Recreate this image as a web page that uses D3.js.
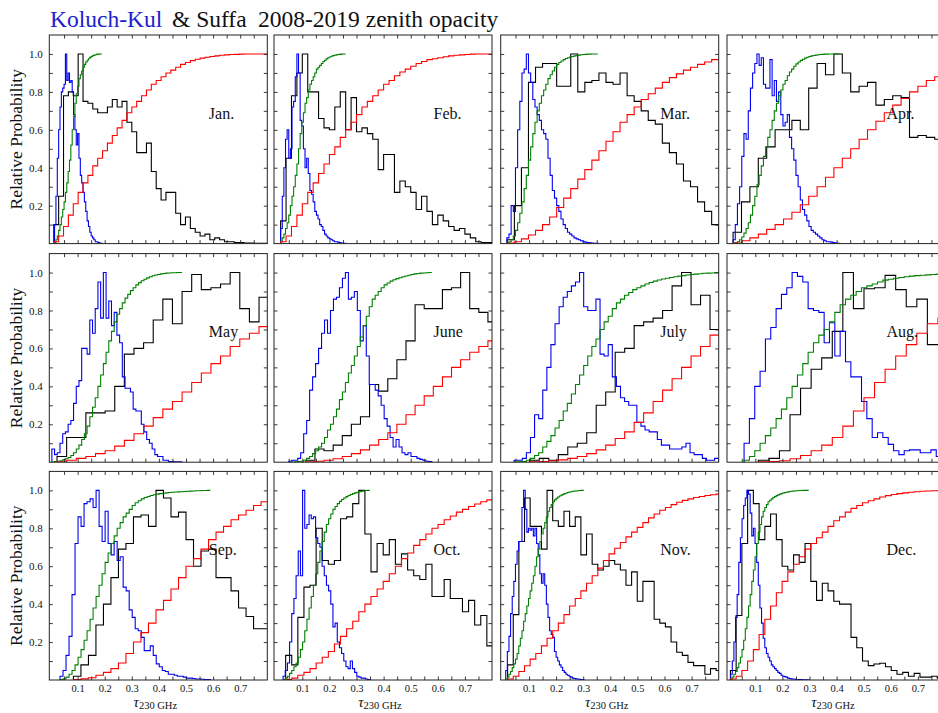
<!DOCTYPE html>
<html><head><meta charset="utf-8">
<script src="https://cdn.jsdelivr.net/npm/d3@7"></script>
<style>html,body{margin:0;padding:0;background:#fff;overflow:hidden}</style>
</head><body><svg id="chart" width="938" height="713"></svg>
<script>
// ---------------- DATA ----------------
const months = ["Jan.","Feb.","Mar.","Apr.","May","June","July","Aug.","Sep.","Oct.","Nov.","Dec."];

// Koluch-Kul (blue histogram, green cumulative): bin start and width per month
const kkStart = [0.015,0.02,0.018,0.018,0.005,0.05,0.045,0.0585,0.035,0.029,0.014,0.009];
const kkWidth = [0.005,0.006,0.008,0.008,0.01,0.011,0.0151,0.0197,0.0111,0.008,0.006,0.006];
const kkHist = [
 [0.1,0.25,0.45,0.6,0.72,0.8,0.82,0.84,1.0,0.86,0.9,0.85,0.86,0.8,0.68,0.6,0.52,0.58,0.45,0.36,0.32,0.27,0.22,0.17,0.12,0.09,0.06,0.04,0.03,0.02,0.01,0.01,0.005,0.003,0.002],
 [0.08,0.25,0.4,0.55,0.6,0.45,0.5,0.72,0.75,0.88,1.0,0.9,0.65,0.62,0.5,0.4,0.45,0.37,0.28,0.26,0.22,0.17,0.15,0.13,0.1,0.09,0.07,0.05,0.04,0.03,0.025,0.02,0.015,0.01,0.01,0.008,0.005,0.003,0.002,0.001],
 [0.03,0.05,0.2,0.17,0.4,0.6,0.75,0.9,0.92,1.0,0.9,0.85,0.76,0.72,0.68,0.65,0.6,0.58,0.55,0.45,0.36,0.28,0.24,0.2,0.17,0.13,0.1,0.08,0.06,0.05,0.04,0.03,0.025,0.02,0.015,0.01,0.008,0.005,0.004,0.003,0.002,0.001],
 [0.02,0.1,0.21,0.3,0.46,0.58,0.55,0.7,0.82,0.9,0.95,1.0,0.94,0.98,0.84,0.82,0.82,0.97,0.78,0.86,0.75,0.8,0.68,0.62,0.64,0.68,0.56,0.5,0.44,0.36,0.3,0.23,0.18,0.15,0.12,0.09,0.07,0.06,0.05,0.04,0.03,0.02,0.015,0.01,0.01,0.008,0.005,0.003,0.002],
 [0.07,0.04,0.05,0.1,0.15,0.16,0.2,0.22,0.31,0.4,0.43,0.6,0.6,0.57,0.75,0.68,0.81,0.95,0.76,1.0,0.76,0.85,0.72,0.79,0.67,0.63,0.45,0.39,0.39,0.37,0.28,0.27,0.27,0.2,0.16,0.12,0.1,0.07,0.04,0.03,0.03,0.01,0.01,0.003,0.003,0.002,0.002,0.002],
 [0.005,0.01,0.01,0.02,0.05,0.15,0.22,0.38,0.45,0.52,0.6,0.68,0.75,0.68,0.8,0.86,0.87,0.92,0.97,1.0,0.86,0.87,0.9,0.8,0.64,0.72,0.56,0.41,0.41,0.38,0.35,0.3,0.23,0.19,0.13,0.08,0.12,0.08,0.05,0.04,0.05,0.03,0.03,0.02,0.015,0.01,0.005,0.003],
 [0.01,0.01,0.02,0.05,0.13,0.25,0.23,0.38,0.5,0.62,0.73,0.82,0.87,0.9,0.93,0.95,1.0,0.82,0.8,0.8,0.86,0.57,0.56,0.62,0.45,0.4,0.34,0.32,0.3,0.3,0.21,0.19,0.17,0.16,0.16,0.12,0.09,0.09,0.07,0.07,0.07,0.08,0.1,0.05,0.04,0.04,0.02,0.01,0.01,0.02],
 [0.1,0.23,0.4,0.48,0.65,0.71,0.81,0.885,0.92,1.0,0.98,0.95,0.81,0.8,0.79,0.63,0.735,0.56,0.69,0.53,0.45,0.45,0.32,0.23,0.13,0.155,0.13,0.094,0.06,0.04,0.06,0.065,0.065,0.05,0.05,0.065,0.03,0.03],
 [0.02,0.05,0.13,0.23,0.45,0.72,0.86,0.81,0.93,0.94,0.955,0.91,1.0,0.81,0.73,0.89,0.72,0.66,0.73,0.63,0.65,0.49,0.47,0.37,0.33,0.27,0.26,0.225,0.155,0.155,0.18,0.13,0.085,0.07,0.05,0.045,0.03,0.03,0.025,0.02,0.02,0.015,0.01,0.01,0.008,0.005,0.005,0.004,0.003,0.002],
 [0.02,0.05,0.09,0.2,0.35,0.43,0.55,0.68,0.55,1.0,0.8,0.82,0.87,0.85,0.86,0.75,0.72,0.7,0.6,0.55,0.5,0.47,0.4,0.28,0.3,0.2,0.17,0.14,0.1,0.07,0.06,0.1,0.06,0.04,0.02,0.015,0.01,0.01,0.005,0.003],
 [0.05,0.15,0.23,0.35,0.44,0.52,0.61,0.68,0.73,0.73,0.91,1.0,0.9,0.78,0.8,0.79,0.8,0.76,0.8,0.72,0.66,0.56,0.51,0.56,0.5,0.4,0.33,0.26,0.24,0.225,0.15,0.12,0.1,0.08,0.067,0.05,0.04,0.03,0.025,0.02,0.015,0.01,0.008,0.006,0.005,0.004,0.003,0.002],
 [0.03,0.1,0.2,0.33,0.45,0.62,0.75,0.85,0.92,0.96,1.0,0.98,0.88,0.76,0.8,0.72,0.62,0.5,0.38,0.3,0.22,0.17,0.14,0.12,0.1,0.08,0.07,0.06,0.05,0.04,0.035,0.025,0.02,0.018,0.015,0.01,0.008,0.006,0.005,0.004,0.003,0.003,0.002,0.002,0.001,0.001,0.001,0.001]
];
const kkCum = [
 [0.005,0.02,0.04,0.07,0.1,0.14,0.18,0.22,0.27,0.32,0.38,0.44,0.52,0.6,0.67,0.74,0.79,0.83,0.87,0.89,0.91,0.93,0.945,0.957,0.967,0.975,0.982,0.987,0.991,0.994,0.996,0.998,0.999,1.0,1.0],
 [0.01,0.03,0.05,0.08,0.11,0.15,0.2,0.25,0.3,0.36,0.42,0.5,0.58,0.64,0.69,0.74,0.77,0.81,0.84,0.86,0.88,0.9,0.92,0.93,0.94,0.95,0.96,0.967,0.974,0.98,0.984,0.988,0.991,0.993,0.995,0.997,0.998,0.999,1,1],
 [0.005,0.01,0.02,0.04,0.07,0.11,0.16,0.22,0.29,0.36,0.44,0.51,0.58,0.64,0.7,0.74,0.78,0.81,0.84,0.87,0.89,0.91,0.93,0.945,0.955,0.963,0.97,0.976,0.98,0.984,0.987,0.99,0.992,0.994,0.996,0.997,0.998,0.999,0.999,1,1,1],
 [0.002,0.005,0.01,0.02,0.035,0.055,0.08,0.11,0.15,0.2,0.25,0.31,0.36,0.41,0.46,0.51,0.56,0.6,0.65,0.7,0.74,0.78,0.81,0.84,0.86,0.885,0.905,0.92,0.935,0.948,0.958,0.966,0.972,0.978,0.983,0.987,0.99,0.992,0.994,0.996,0.997,0.998,0.999,0.999,1,1,1,1,1],
 [0.001,0.003,0.005,0.008,0.012,0.018,0.025,0.035,0.05,0.07,0.09,0.12,0.15,0.19,0.24,0.29,0.34,0.4,0.46,0.52,0.58,0.64,0.69,0.74,0.78,0.81,0.84,0.865,0.885,0.905,0.92,0.935,0.947,0.957,0.965,0.972,0.978,0.983,0.987,0.99,0.993,0.995,0.997,0.998,0.999,0.999,1,1],
 [0,0.001,0.002,0.003,0.005,0.01,0.02,0.03,0.045,0.06,0.08,0.1,0.13,0.17,0.2,0.24,0.28,0.33,0.37,0.42,0.47,0.51,0.56,0.61,0.66,0.72,0.77,0.82,0.86,0.88,0.9,0.92,0.935,0.945,0.955,0.962,0.968,0.973,0.978,0.982,0.986,0.99,0.993,0.995,0.997,0.998,0.999,1],
 [0.001,0.002,0.004,0.01,0.02,0.035,0.05,0.08,0.11,0.14,0.18,0.22,0.27,0.31,0.36,0.41,0.46,0.51,0.56,0.61,0.65,0.7,0.74,0.77,0.81,0.84,0.86,0.88,0.895,0.91,0.92,0.93,0.94,0.948,0.955,0.961,0.966,0.97,0.974,0.978,0.981,0.984,0.987,0.99,0.992,0.994,0.996,0.997,0.998,1.0],
 [0.01,0.03,0.06,0.1,0.14,0.18,0.23,0.28,0.34,0.4,0.46,0.52,0.58,0.63,0.67,0.7,0.74,0.79,0.83,0.86,0.88,0.9,0.92,0.93,0.94,0.95,0.96,0.965,0.97,0.974,0.978,0.981,0.984,0.986,0.988,0.99,0.992,0.994],
 [0.002,0.006,0.015,0.03,0.05,0.08,0.12,0.16,0.21,0.26,0.32,0.38,0.44,0.5,0.56,0.62,0.67,0.72,0.76,0.8,0.83,0.86,0.88,0.9,0.92,0.935,0.945,0.955,0.962,0.968,0.973,0.977,0.98,0.983,0.985,0.987,0.989,0.99,0.991,0.992,0.993,0.994,0.995,0.996,0.997,0.998,0.998,0.999,0.999,1.0],
 [0.003,0.01,0.02,0.035,0.05,0.07,0.09,0.12,0.16,0.2,0.26,0.32,0.38,0.44,0.5,0.56,0.62,0.68,0.73,0.78,0.82,0.85,0.875,0.9,0.915,0.93,0.942,0.952,0.96,0.967,0.973,0.978,0.983,0.987,0.99,0.993,0.996,0.998,0.999,1.0],
 [0.005,0.015,0.03,0.045,0.065,0.085,0.11,0.14,0.18,0.22,0.26,0.31,0.35,0.39,0.43,0.47,0.51,0.55,0.6,0.65,0.69,0.73,0.77,0.8,0.83,0.86,0.89,0.91,0.925,0.94,0.95,0.958,0.965,0.97,0.975,0.979,0.983,0.986,0.989,0.991,0.993,0.995,0.996,0.997,0.998,0.999,1,1],
 [0.005,0.015,0.03,0.045,0.065,0.09,0.12,0.16,0.21,0.27,0.33,0.39,0.45,0.52,0.58,0.65,0.72,0.78,0.82,0.86,0.89,0.91,0.925,0.94,0.948,0.955,0.962,0.967,0.972,0.976,0.98,0.983,0.986,0.988,0.99,0.992,0.994,0.995,0.996,0.997,0.998,0.998,0.999,0.999,1,1,1,1]
];

// Suffa (black histogram, red cumulative): bin start and width per month
const suStart = [0.012,0.02,0.02,0.018,0.024,0.113,0.103,0.111,0.0845,0.0385,0.021,0.008];
const suWidth = [0.018,0.02,0.026,0.031,0.0355,0.0336,0.035,0.039,0.0277,0.0225,0.0208,0.0212];
const suHist = [
 [0.1,0.25,0.78,0.8,0.78,1.0,0.75,0.74,0.71,0.69,0.69,0.72,0.76,0.72,0.75,0.64,0.59,0.48,0.48,0.53,0.38,0.29,0.23,0.27,0.27,0.16,0.1,0.14,0.08,0.06,0.04,0.05,0.02,0.03,0.02,0.01,0.01,0.005,0.005,0.003,0.003,0.002,0.002,0.002],
 [0.12,0.45,0.78,0.9,1.0,0.8,0.8,0.66,0.61,0.6,0.72,0.8,0.6,0.77,0.59,0.61,0.58,0.55,0.39,0.47,0.47,0.27,0.33,0.3,0.27,0.18,0.25,0.17,0.1,0.15,0.12,0.09,0.07,0.08,0.05,0.03,0.01,0.005,0.005],
 [0.02,0.2,0.4,0.85,0.93,0.95,0.95,0.83,0.83,1.0,0.8,0.85,0.86,0.9,0.85,0.84,0.9,0.78,0.75,0.7,0.65,0.63,0.53,0.48,0.42,0.33,0.3,0.22,0.17,0.1],
 [0.06,0.22,0.3,0.45,0.51,0.6,0.6,0.65,0.6,0.82,0.95,0.89,1.0,0.9,0.8,0.83,0.85,0.73,0.76,0.78,0.77,0.56,0.57,0.56,0.55,0.55],
 [0.03,0.13,0.13,0.26,0.26,0.27,0.4,0.57,0.6,0.63,0.75,0.86,0.73,0.9,0.99,0.91,0.92,0.94,1.0,0.81,0.74,0.87],
 [0.01,0.07,0.06,0.09,0.14,0.2,0.24,0.41,0.375,0.44,0.54,0.64,0.83,0.81,0.81,0.91,0.92,1.0,0.81,0.79,0.74],
 [0.01,0.02,0.01,0.04,0.08,0.1,0.155,0.3,0.37,0.58,0.6,0.72,0.74,0.76,0.8,0.93,1.0,0.83,0.88,0.7],
 [0.01,0.02,0.06,0.25,0.39,0.49,0.55,0.69,1.0,0.81,0.915,0.92,0.985,0.91,0.82,0.86,0.62,0.62],
 [0.02,0.08,0.13,0.29,0.4,0.54,0.69,0.72,0.86,0.87,0.81,1.0,0.96,0.86,0.885,0.74,0.6,0.68,0.69,0.54,0.54,0.47,0.38,0.335,0.27,0.27],
 [0.13,0.08,0.33,0.49,0.5,0.8,0.63,0.61,0.63,0.85,0.86,0.93,1.0,0.77,0.57,0.72,0.66,0.74,0.61,0.665,0.58,0.55,0.53,0.61,0.44,0.44,0.53,0.43,0.43,0.36,0.42,0.29,0.34,0.18],
 [0.08,0.345,0.73,0.96,0.81,0.81,0.69,1.0,0.84,0.81,0.89,0.81,0.86,0.66,0.77,0.61,0.58,0.6,0.63,0.61,0.58,0.5,0.57,0.415,0.52,0.52,0.32,0.3,0.28,0.2,0.146,0.13,0.093,0.076,0.076,0.03,0.06,0.05],
 [0.05,0.34,0.72,1.0,0.93,0.74,0.81,0.875,0.74,0.6,0.58,0.66,0.62,0.72,0.52,0.42,0.51,0.47,0.415,0.4,0.4,0.225,0.17,0.1,0.076,0.084,0.088,0.07,0.05,0.03,0.04,0.02,0.035,0.015,0.015,0.02,0.01,0.01]
];
const suCum = [
 [0.01,0.04,0.09,0.15,0.21,0.27,0.32,0.36,0.41,0.45,0.49,0.53,0.57,0.61,0.65,0.69,0.72,0.75,0.78,0.81,0.84,0.86,0.88,0.9,0.915,0.93,0.945,0.955,0.965,0.972,0.978,0.983,0.987,0.99,0.993,0.995,0.997,0.998,0.999,1,1,1,1,1],
 [0.01,0.04,0.09,0.15,0.21,0.27,0.32,0.37,0.42,0.47,0.51,0.56,0.6,0.64,0.68,0.72,0.75,0.78,0.81,0.84,0.86,0.885,0.905,0.92,0.935,0.95,0.96,0.97,0.975,0.98,0.985,0.99,0.993,0.995,0.997,0.999,1,1,1],
 [0.003,0.01,0.025,0.045,0.07,0.1,0.14,0.19,0.24,0.29,0.34,0.39,0.44,0.49,0.54,0.59,0.64,0.68,0.72,0.76,0.79,0.82,0.85,0.875,0.895,0.915,0.93,0.945,0.958,0.97],
 [0.003,0.015,0.03,0.05,0.075,0.1,0.13,0.165,0.205,0.25,0.3,0.35,0.4,0.45,0.5,0.55,0.6,0.645,0.69,0.73,0.765,0.8,0.83,0.86,0.88,0.9],
 [0.002,0.01,0.02,0.03,0.045,0.06,0.085,0.115,0.15,0.19,0.235,0.28,0.32,0.37,0.42,0.47,0.52,0.56,0.61,0.65,0.68,0.715],
 [0.002,0.005,0.01,0.018,0.03,0.045,0.065,0.09,0.12,0.155,0.2,0.25,0.3,0.35,0.4,0.45,0.5,0.54,0.58,0.61,0.64],
 [0.002,0.004,0.007,0.012,0.02,0.03,0.045,0.065,0.09,0.125,0.16,0.21,0.26,0.32,0.38,0.44,0.5,0.56,0.61,0.67],
 [0.002,0.004,0.008,0.018,0.035,0.06,0.09,0.13,0.19,0.27,0.34,0.42,0.49,0.56,0.62,0.68,0.73,0.76],
 [0.002,0.006,0.012,0.025,0.04,0.06,0.09,0.14,0.2,0.25,0.3,0.37,0.42,0.48,0.54,0.6,0.64,0.69,0.74,0.78,0.81,0.845,0.87,0.895,0.92,0.94],
 [0.003,0.01,0.025,0.04,0.06,0.09,0.12,0.15,0.19,0.23,0.27,0.31,0.36,0.4,0.44,0.48,0.52,0.56,0.6,0.64,0.67,0.71,0.74,0.77,0.8,0.82,0.845,0.865,0.885,0.9,0.915,0.928,0.94,0.95],
 [0.005,0.02,0.045,0.075,0.11,0.14,0.18,0.22,0.26,0.3,0.345,0.39,0.43,0.47,0.51,0.55,0.59,0.63,0.665,0.695,0.725,0.755,0.78,0.805,0.83,0.855,0.875,0.895,0.91,0.925,0.937,0.947,0.955,0.962,0.968,0.973,0.977,0.98],
 [0.005,0.02,0.05,0.1,0.16,0.24,0.32,0.39,0.46,0.52,0.57,0.61,0.65,0.69,0.72,0.75,0.78,0.81,0.84,0.86,0.885,0.905,0.92,0.935,0.945,0.955,0.965,0.972,0.978,0.983,0.987,0.99,0.993,0.995,0.997,0.998,0.999,1.0]
];

const xTickValues = [0.1,0.2,0.3,0.4,0.5,0.6,0.7];
const xTickLabels = ["0.1","0.2","0.3","0.4","0.5","0.6","0.7"];
const xMinorTicks = [0.05,0.1,0.15,0.2,0.25,0.3,0.35,0.4,0.45,0.5,0.55,0.6,0.65,0.7,0.75];
const yTickValues = [0.2,0.4,0.6,0.8,1.0];
const yTickLabels = ["0.2","0.4","0.6","0.8","1.0"];
const yMinorTicks = [0.1,0.2,0.3,0.4,0.5,0.6,0.7,0.8,0.9,1.0];

// ---------------- LAYOUT ----------------
const FONT = "Liberation Serif, Times New Roman, serif";
const colLeft = [49.3, 274, 500.7, 727];
const rowTop = [35, 253.6, 471.4];
const PW = 218, PH = 208.6;
const C = {kk:"#0000f0", su:"#000000", kkc:"#008000", suc:"#ff0000"};

const svg = d3.select("#chart");
svg.append("rect").attr("width",938).attr("height",713).attr("fill","#fff");

const x = d3.scaleLinear().domain([-0.0045, 0.8]).range([0, PW]);
const y = d3.scaleLinear().domain([0, 1.1]).range([PH, 0]);
const line = d3.line().x(d => x(d[0])).y(d => y(d[1])).curve(d3.curveStepAfter);

function stepPts(start, width, vals, drop) {
  const pts = [[start, 0]];
  vals.forEach((v, i) => pts.push([start + i * width, v]));
  pts.push([start + vals.length * width, vals[vals.length - 1]]);
  if (drop) pts.push([start + vals.length * width, 0]);
  return pts;
}

const defs = svg.append("defs");

months.forEach((m, i) => {
  const col = i % 4, row = Math.floor(i / 4);
  const g = svg.append("g").attr("transform", `translate(${colLeft[col]},${rowTop[row]})`);
  defs.append("clipPath").attr("id", "clip" + i)
    .append("rect").attr("width", PW).attr("height", PH);

  const plot = g.append("g").attr("clip-path", `url(#clip${i})`);
  const series = [
    {pts: stepPts(suStart[i], suWidth[i], suHist[i], true), c: C.su},
    {pts: stepPts(kkStart[i], kkWidth[i], kkHist[i], true), c: C.kk},
    {pts: stepPts(kkStart[i], kkWidth[i], kkCum[i], false), c: C.kkc},
    {pts: stepPts(suStart[i], suWidth[i], suCum[i], false), c: C.suc}
  ];
  series.forEach(s => plot.append("path").attr("d", line(s.pts))
    .attr("fill","none").attr("stroke", s.c).attr("stroke-width", 1.1)
    .attr("stroke-linejoin","miter"));

  // ticks (inward)
  const tl = 3.5;
  const axB = g.append("g").attr("transform", `translate(0,${PH})`)
    .call(d3.axisBottom(x).tickValues(xMinorTicks).tickSize(-tl).tickFormat(""));
  const axT = g.append("g").call(d3.axisTop(x).tickValues(xMinorTicks).tickSize(-tl).tickFormat(""));
  const axL = g.append("g").call(d3.axisLeft(y).tickValues(yMinorTicks).tickSize(-tl).tickFormat(""));
  const axR = g.append("g").attr("transform", `translate(${PW},0)`)
    .call(d3.axisRight(y).tickValues(yMinorTicks).tickSize(-tl).tickFormat(""));
  [axB, axT, axL, axR].forEach(a => {
    a.select(".domain").remove();
    a.selectAll("line").attr("stroke", "#222").attr("stroke-width", 0.9);
  });

  if (row === 2) {
    const lab = g.append("g").attr("transform", `translate(0,${PH})`)
      .call(d3.axisBottom(x).tickValues(xTickValues).tickSize(0).tickPadding(5)
        .tickFormat((d, k) => xTickLabels[k]));
    lab.select(".domain").remove();
    lab.selectAll("text").attr("font-family", FONT).attr("font-size", 10.5).attr("fill", "#111");
    const t = g.append("text").attr("x", PW / 2 - 3).attr("y", 707.5 - rowTop[row])
      .attr("text-anchor", "middle").attr("font-family", FONT).attr("fill", "#111");
    t.append("tspan").attr("font-style", "italic").attr("font-size", 15).text("τ");
    t.append("tspan").attr("font-size", 10.5).attr("dy", 1.5).text("230 GHz");
  }
  if (col === 0) {
    const lab = g.append("g")
      .call(d3.axisLeft(y).tickValues(yTickValues).tickSize(0).tickPadding(6.5)
        .tickFormat((d, k) => yTickLabels[k]));
    lab.select(".domain").remove();
    lab.selectAll("text").attr("font-family", FONT).attr("font-size", 11).attr("fill", "#111");
    svg.append("text")
      .attr("transform", `translate(22,${rowTop[row] + PH / 2}) rotate(-90)`)
      .attr("text-anchor", "middle").attr("font-family", FONT)
      .attr("font-size", 17.5).attr("fill", "#111").text("Relative Probability");
  }

  // border
  g.append("rect").attr("width", PW).attr("height", PH)
    .attr("fill", "none").attr("stroke", "#222").attr("stroke-width", 1);

  // month label
  g.append("text").attr("x", 159.5).attr("y", 83.5)
    .attr("font-family", FONT).attr("font-size", 16).attr("fill", "#111").text(m);
});

// title
svg.append("text").attr("x", 50).attr("y", 27).attr("font-family", FONT)
  .attr("font-size", 23.5).attr("fill", "#2020d0").text("Koluch-Kul");
svg.append("text").attr("x", 172).attr("y", 27).attr("font-family", FONT)
  .attr("font-size", 23.5).attr("fill", "#111").text("& Suffa");
svg.append("text").attr("x", 258).attr("y", 27).attr("font-family", FONT)
  .attr("font-size", 23.5).attr("fill", "#111").text("2008-2019 zenith opacity");
</script></body></html>
